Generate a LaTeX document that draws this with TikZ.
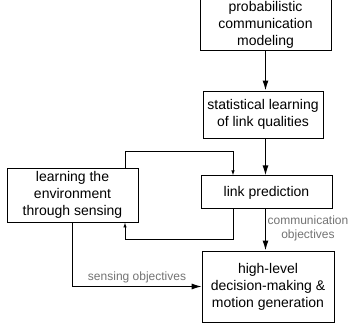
\documentclass[tikz,border=0pt]{standalone}
\usepackage{fontspec}
\setmainfont{Liberation Sans}
\usetikzlibrary{arrows.meta}

\begin{document}
\begin{tikzpicture}[x=1pt,y=-1pt,
		block/.style={draw, line width=0.9pt, align=center, inner sep=2pt, font=\fontsize{14}{17}\selectfont},
		objlabel/.style={text=black!55, font=\fontsize{12}{14}\selectfont, align=center, inner sep=1pt},
		mainarrow/.style={-{Latex[length=10pt,width=6pt]}, line width=1.3pt},
		sensearrow/.style={-{Latex[length=10pt,width=6pt]}, line width=0.9pt},
		looparrow/.style={-{Latex[length=5pt,width=3.5pt]}, line width=0.9pt}]
			\useasboundingbox (0,0) rectangle (349,332);
			\node[block, minimum width=131pt, minimum height=51pt] (model) at (265.5,25.3) {probabilistic\\communication\\modeling};
			\node[block, minimum width=120pt, minimum height=47pt] (stat) at (263,114.5) {statistical learning\\of link qualities};
			\node[block, minimum width=131pt, minimum height=33pt] (pred) at (266.5,192.4) {link prediction};
			\node[block, minimum width=131pt, minimum height=54pt] (env) at (72.5,195) {learning the\\environment\\through sensing};
			\node[block, minimum width=132pt, minimum height=71pt] (plan) at (268,286.5) {high-level\\decision-making \&\\motion generation};
			\coordinate (loopnw) at (125,151);
			\coordinate (loopne) at (233,151);
			\coordinate (loopse) at (233,239);
			\coordinate (loopsw) at (125,239);
			\path[mainarrow]
			(model.south -| model) edge (stat.north -| model)
			(stat.south -| model) edge (pred.north -| model)
			(pred.south -| model) edge node[objlabel, right, xshift=0.5pt, yshift=2pt]{communication\\objectives} (plan.north -| model);
			\draw[sensearrow] (env.south) |- node[objlabel, pos=0.75, above, yshift=2pt]{sensing objectives} (plan.west);
			\draw[looparrow] (env.north -| loopnw) -- (loopnw) -- (loopne) -- (pred.north -| loopne);
			\draw[looparrow] (pred.south -| loopse) -- (loopse) -- (loopsw) -- (env.south -| loopsw);
		\end{tikzpicture}
\end{document}
